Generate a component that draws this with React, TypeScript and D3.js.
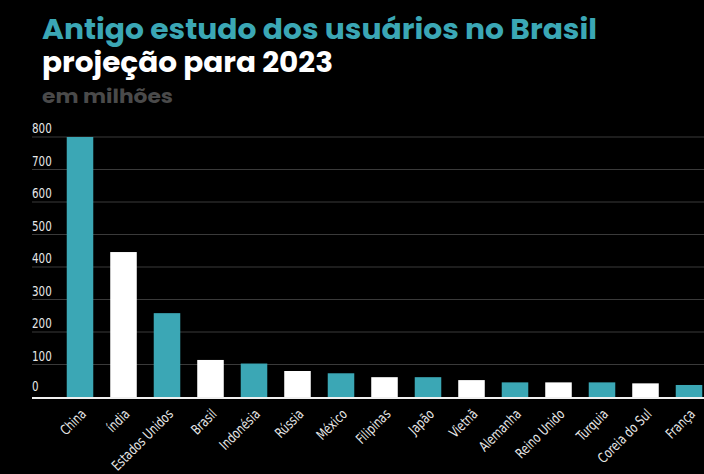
import React from "react";
import * as d3 from "d3";

const categories = ["China", "índia", "Estados Unidos", "Brasil", "Indonésia", "Rússia", "México", "Filipinas", "Japão", "Vietnã", "Alemanha", "Reino Unido", "Turquia", "Coreia do Sul", "França"];
const values = [800, 446, 258, 114, 103, 80, 73, 61, 61, 52, 45, 45, 45, 42, 37];
const yTicks = [0, 100, 200, 300, 400, 500, 600, 700, 800];
const titleLines = ["Antigo estudo dos usuários no Brasil", "projeção para 2023", "em milhões"];

const W = 704, H = 474;
const TEAL = "#3ba7b5";

export default function App() {
  const x = d3.scaleBand<string>().domain(categories).range([58.25, 710.75]).paddingInner(0.39).paddingOuter(0.195);
  const y = d3.scaleLinear().domain([0, 800]).range([397, 137]);
  const titleFont = "Poppins, Inter, 'Open Sans', sans-serif";
  const axisFont = "'DejaVu Sans Condensed', 'Open Sans', sans-serif";
  return (
    <svg width={W} height={H} style={{ position: "fixed", left: 0, top: 0, background: "#000" }}>
      <rect x={0} y={0} width={W} height={H} fill="#000" />
      <text x={42} y={39} fill={TEAL} fontFamily={titleFont} fontWeight={700} fontSize={28} textLength={555} lengthAdjust="spacingAndGlyphs">{titleLines[0]}</text>
      <text x={42} y={72} fill="#fff" fontFamily={titleFont} fontWeight={700} fontSize={28} textLength={291} lengthAdjust="spacingAndGlyphs">{titleLines[1]}</text>
      <text x={42} y={103} fill="#4a4a4a" fontFamily={titleFont} fontWeight={700} fontSize={20} textLength={131} lengthAdjust="spacingAndGlyphs">{titleLines[2]}</text>
      {yTicks.map((t) => (
        <g key={t}>
          {t > 0 && <line x1={32} x2={W} y1={y(t)} y2={y(t)} stroke="#3a3a3a" strokeWidth={1} />}
          <text transform={`translate(32,${y(t) - (t === 0 ? 6 : 4)}) scale(0.82,1)`} fill="#e8e8e8" fontFamily={axisFont} fontSize={14}>{t}</text>
        </g>
      ))}
      {categories.map((c, i) => (
        <rect key={c} x={x(c)} y={y(values[i])} width={x.bandwidth()} height={y(0) - y(values[i])} fill={i % 2 === 0 ? TEAL : "#fff"} />
      ))}
      <line x1={32} x2={W} y1={398} y2={398} stroke="#f0f0f0" strokeWidth={2} />
      {categories.map((c) => {
        const cx = (x(c) as number) + x.bandwidth() / 2;
        return (
          <text key={c} transform={`translate(${cx + 7},${415}) rotate(-45) scale(0.83,1)`} textAnchor="end" fill="#e8e8e8" fontFamily={axisFont} fontSize={14}>{c}</text>
        );
      })}
    </svg>
  );
}
